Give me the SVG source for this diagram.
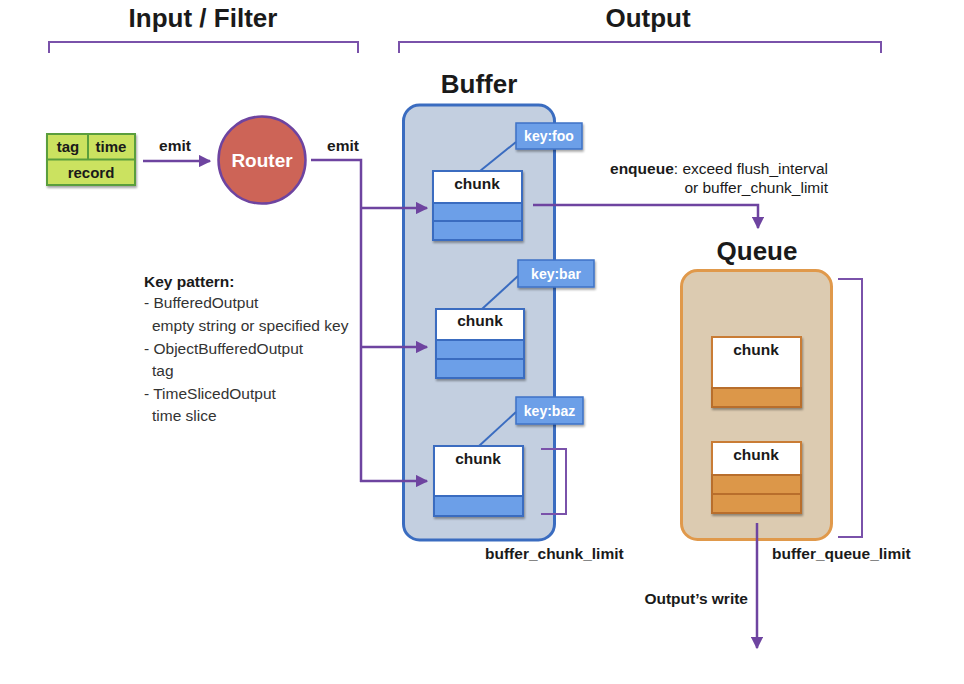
<svg xmlns="http://www.w3.org/2000/svg" width="964" height="684" viewBox="0 0 964 684">
<style>
text{font-family:"Liberation Sans",Arial,sans-serif;fill:#1a1a1a}
.h{font-size:26px;font-weight:bold;text-anchor:middle}
.b{font-weight:bold}
.sm{font-size:15.5px}
.cl{font-size:15.5px;font-weight:bold;text-anchor:middle}
.kt{font-size:14px;font-weight:bold;fill:#fff;text-anchor:middle}
.conn{fill:none;stroke:#6e44a0;stroke-width:2.5}
.br{fill:none;stroke:#7a52aa;stroke-width:2}
.cw{fill:#fff;stroke:#3a6cc0;stroke-width:2}
.cb{fill:#6c9fe8;stroke:#3a6cc0;stroke-width:2}
.key{fill:#6c9fe8;stroke:#3f72c6;stroke-width:1.5}
.kl{stroke:#3a6cc0;stroke-width:2}
.qw{fill:#fff;stroke:#c97c35;stroke-width:2}
.qo{fill:#dc9749;stroke:#b86e2c;stroke-width:2}
.gr{fill:#cbe260;stroke:#5a9e3c;stroke-width:2}
.gt{font-size:15px;font-weight:bold;text-anchor:middle}
.kp{font-size:15.5px;fill:#333}
</style>
<defs>
<marker id="ah" viewBox="0 0 10 10" refX="9" refY="5" markerWidth="5" markerHeight="5" orient="auto" markerUnits="strokeWidth">
<path d="M0,0 L10,5 L0,10 z" fill="#6e44a0"/>
</marker>
<filter id="sh" x="-10%" y="-10%" width="130%" height="130%">
<feDropShadow dx="1" dy="2" stdDeviation="1.2" flood-opacity="0.35"/>
</filter>
</defs>

<g id="headers">
<text class="h" x="203" y="27">Input / Filter</text>
<text class="h" x="648" y="27">Output</text>
<path class="br" d="M49,53 V42 H358 V53"/>
<path class="br" d="M399,53 V42 H881 V53"/>
</g>

<g id="event">
<g filter="url(#sh)">
<rect class="gr" x="47" y="134" width="88" height="51"/>
</g>
<line x1="47" y1="159.5" x2="135" y2="159.5" stroke="#5a9e3c" stroke-width="2"/>
<line x1="88" y1="134" x2="88" y2="159.5" stroke="#5a9e3c" stroke-width="2"/>
<text class="gt" x="68" y="152">tag</text>
<text class="gt" x="111" y="152">time</text>
<text class="gt" x="91" y="178">record</text>
</g>

<g id="router">
<circle cx="262" cy="160" r="43.5" fill="#cd6457" stroke="#6e44a0" stroke-width="2.5"/>
<text x="262" y="167" font-size="19" font-weight="bold" text-anchor="middle" style="fill:#fff">Router</text>
</g>

<g id="buffer">
<text class="h" x="479" y="93">Buffer</text>
<rect x="403.5" y="105" width="151" height="435" rx="16" fill="#c3cfe0" stroke="#3a6cc0" stroke-width="3"/>
</g>

<g id="chunk-foo">
<line class="kl" x1="480" y1="171" x2="516" y2="142"/>
<g filter="url(#sh)">
<rect class="cw" x="433" y="171" width="89" height="69"/>
</g>
<rect class="cb" x="433" y="203" width="89" height="18"/>
<rect class="cb" x="433" y="221" width="89" height="19"/>
<text class="cl" x="477" y="189">chunk</text>
<g filter="url(#sh)"><rect class="key" x="516" y="123" width="66" height="26"/></g>
<text class="kt" x="549" y="141">key:foo</text>
</g>

<g id="chunk-bar">
<line class="kl" x1="482" y1="309" x2="518" y2="276"/>
<g filter="url(#sh)">
<rect class="cw" x="436" y="309" width="88" height="69"/>
</g>
<rect class="cb" x="436" y="340" width="88" height="19"/>
<rect class="cb" x="436" y="359" width="88" height="19"/>
<text class="cl" x="480" y="326">chunk</text>
<g filter="url(#sh)"><rect class="key" x="518" y="260" width="76" height="27"/></g>
<text class="kt" x="556" y="279">key:bar</text>
</g>

<g id="chunk-baz">
<line class="kl" x1="479" y1="446" x2="516" y2="412"/>
<g filter="url(#sh)">
<rect class="cw" x="434" y="446" width="89" height="70"/>
</g>
<rect class="cb" x="434" y="496" width="89" height="20"/>
<text class="cl" x="478" y="464">chunk</text>
<g filter="url(#sh)"><rect class="key" x="516" y="397" width="67" height="27"/></g>
<text class="kt" x="549.5" y="416">key:baz</text>
</g>

<g id="queue">
<text class="h" x="757" y="260">Queue</text>
<rect x="681.5" y="270.5" width="150" height="269" rx="16" fill="#dccbb1" stroke="#e0994b" stroke-width="3"/>
</g>

<g id="queue-chunk-1">
<g filter="url(#sh)">
<rect class="qw" x="712" y="337" width="89" height="70"/>
</g>
<rect class="qo" x="712" y="388" width="89" height="19"/>
<text class="cl" x="756" y="355">chunk</text>
</g>

<g id="queue-chunk-2">
<g filter="url(#sh)">
<rect class="qw" x="712" y="442" width="89" height="71"/>
</g>
<rect class="qo" x="712" y="475" width="89" height="19"/>
<rect class="qo" x="712" y="494" width="89" height="19"/>
<text class="cl" x="756" y="460">chunk</text>
</g>

<g id="connectors">
<line class="conn" x1="143" y1="161" x2="210" y2="161" marker-end="url(#ah)"/>
<polyline class="conn" points="311,160 361,160 361,482"/>
<line class="conn" x1="361" y1="208" x2="427" y2="208" marker-end="url(#ah)"/>
<line class="conn" x1="361" y1="347" x2="427" y2="347" marker-end="url(#ah)"/>
<line class="conn" x1="360" y1="481" x2="427" y2="481" marker-end="url(#ah)"/>
<polyline class="conn" points="533,205 758,205 758,228" marker-end="url(#ah)"/>
<line class="conn" x1="757" y1="523" x2="757" y2="648" marker-end="url(#ah)"/>
<path class="br" d="M541,449 H566 V514 H541"/>
<path class="br" d="M838,279 H862 V537 H838"/>
</g>

<g id="labels">
<text class="sm b" x="175" y="151" text-anchor="middle">emit</text>
<text class="sm b" x="343" y="151" text-anchor="middle">emit</text>
<text class="sm" x="828" y="174" text-anchor="end"><tspan font-weight="bold">enqueue</tspan>: exceed flush_interval</text>
<text class="sm" x="828" y="193" text-anchor="end">or buffer_chunk_limit</text>
<text class="sm b" x="485" y="559">buffer_chunk_limit</text>
<text class="sm b" x="772" y="559">buffer_queue_limit</text>
<text class="sm b" x="748" y="604" text-anchor="end">Output’s write</text>
<text class="kp b" x="144" y="287" style="fill:#1a1a1a">Key pattern:</text>
<text class="kp" x="144" y="308">- BufferedOutput</text>
<text class="kp" x="152" y="331">empty string or specified key</text>
<text class="kp" x="144" y="354">- ObjectBufferedOutput</text>
<text class="kp" x="152" y="376">tag</text>
<text class="kp" x="144" y="399">- TimeSlicedOutput</text>
<text class="kp" x="152" y="421">time slice</text>
</g>
</svg>
